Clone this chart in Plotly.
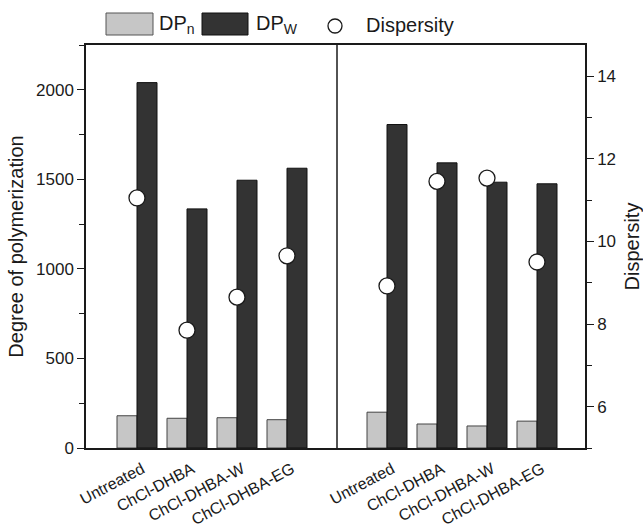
import plotly.graph_objects as go

categories = ["Untreated", "ChCl-DHBA", "ChCl-DHBA-W", "ChCl-DHBA-EG"]
positions = [1, 2, 3, 4, 6, 7, 8, 9]
tick_labels = categories + categories

dpn = [180, 166, 169, 158, 200, 134, 123, 150]
dpw = [2040, 1335, 1495, 1562, 1806, 1592, 1484, 1475]
dispersity = [11.05, 7.85, 8.65, 9.65, 8.92, 11.45, 11.53, 9.5]

FONT = "Arial, Liberation Sans, sans-serif"
BLACK = "#1a1a1a"
LIGHT = "#c6c6c6"
DARK = "#333333"

fig = go.Figure()
fig.add_trace(go.Bar(x=positions, y=dpn, name="DPn",
                     marker=dict(color=LIGHT, line=dict(color="#444444", width=1)),
                     showlegend=False))
fig.add_trace(go.Bar(x=positions, y=dpw, name="DPw",
                     marker=dict(color=DARK, line=dict(color="#111111", width=1)),
                     showlegend=False))
fig.add_trace(go.Scatter(x=positions, y=dispersity, yaxis="y2", mode="markers",
                         name="Dispersity",
                         marker=dict(symbol="circle", size=16, color="white",
                                     line=dict(color=BLACK, width=1.3)),
                         showlegend=False))

# divider between groups
fig.add_shape(type="line", xref="x", yref="paper", x0=5, x1=5, y0=0, y1=1,
              line=dict(color=BLACK, width=1.5))

# manual legend
def px_x(p):
    return (p - 86) / 499

def px_y(p):
    return (448 - p) / 403

fig.add_shape(type="rect", xref="paper", yref="paper",
              x0=px_x(106), x1=px_x(153), y0=px_y(35), y1=px_y(13),
              fillcolor=LIGHT, line=dict(color="#555555", width=1))
fig.add_shape(type="rect", xref="paper", yref="paper",
              x0=px_x(202), x1=px_x(248), y0=px_y(35), y1=px_y(13),
              fillcolor=DARK, line=dict(color="#111111", width=1))
fig.add_shape(type="circle", xref="paper", yref="paper",
              xsizemode="pixel", ysizemode="pixel",
              xanchor=px_x(335), yanchor=px_y(26),
              x0=-7, x1=7, y0=-7, y1=7,
              fillcolor="white", line=dict(color=BLACK, width=1.3))

legend_texts = [("DP<sub>n</sub>", 157), ("DP<sub>W</sub>", 254), ("Dispersity", 364)]
for txt, xp in legend_texts:
    fig.add_annotation(text=txt, xref="paper", yref="paper", x=px_x(xp), y=px_y(25),
                       xanchor="left", yanchor="middle", showarrow=False,
                       font=dict(family=FONT, size=20, color=BLACK))

fig.update_layout(
    width=643, height=532,
    margin=dict(l=86, r=58, t=45, b=84, autoexpand=False),
    paper_bgcolor="white", plot_bgcolor="white",
    barmode="group", bargap=0.2, bargroupgap=0,
    font=dict(family=FONT, size=16, color=BLACK),
    xaxis=dict(range=[-0.02, 9.96], tickmode="array", tickvals=positions,
               ticktext=tick_labels, tickangle=-28, ticks="", automargin=False,
               ticklabelstandoff=4, ticklabelshift=5,
               showline=True, linecolor=BLACK, linewidth=1.5, mirror=True,
               showgrid=False, zeroline=False,
               tickfont=dict(family=FONT, size=16, color=BLACK)),
    yaxis=dict(range=[0, 2250], dtick=500, tick0=0, ticks="outside", ticklen=7,
               tickwidth=1.2, tickcolor=BLACK, automargin=False,
               minor=dict(dtick=250, ticks="outside", ticklen=5, tickwidth=1.2, tickcolor=BLACK),
               showline=True, linecolor=BLACK, linewidth=1.5,
               showgrid=False, zeroline=False,
               title=dict(text="Degree of polymerization", standoff=7,
                          font=dict(family=FONT, size=20, color=BLACK)),
               tickfont=dict(family=FONT, size=17, color=BLACK)),
    yaxis2=dict(range=[5, 14.75], dtick=2, tick0=0, overlaying="y", side="right",
                ticks="outside", ticklen=7, tickwidth=1.2, tickcolor=BLACK, automargin=False,
                minor=dict(dtick=1, ticks="outside", ticklen=5, tickwidth=1.2, tickcolor=BLACK),
                showline=True, linecolor=BLACK, linewidth=1.5,
                showgrid=False, zeroline=False,
                title=dict(text="Dispersity", standoff=16,
                           font=dict(family=FONT, size=20, color=BLACK)),
                tickfont=dict(family=FONT, size=17, color=BLACK)),
)

fig.write_html("out.html")
